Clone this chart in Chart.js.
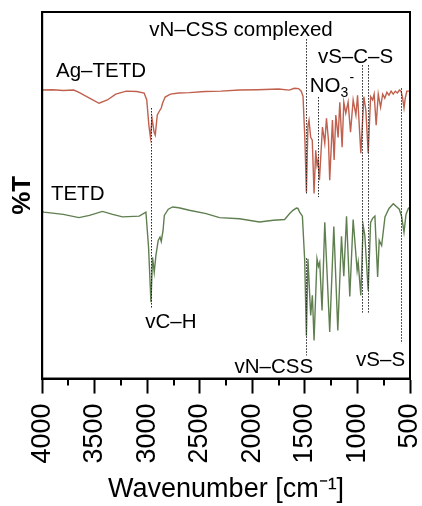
<!DOCTYPE html>
<html>
<head>
<meta charset="utf-8">
<script src="https://cdn.jsdelivr.net/npm/chart.js@4.4.1/dist/chart.umd.min.js"></script>
<style>
  html, body { margin: 0; padding: 0; background: #fff; }
  #wrap { width: 422px; height: 506px; position: relative; }
</style>
</head>
<body>
<div id="wrap"><canvas id="ir-chart"></canvas></div>
<script>
// FTIR spectra (%T, arbitrary offset).
var agWavenumber = [4000, 3900, 3800, 3700, 3650, 3550, 3459, 3380, 3300, 3200, 3100, 3030, 3005, 2985, 2970, 2955, 2935, 2924, 2905, 2880, 2867, 2855, 2830, 2780, 2700, 2600, 2450, 2300, 2122, 1950, 1750, 1650, 1600, 1560, 1535, 1518, 1500, 1486, 1471, 1461, 1445, 1430, 1413, 1397, 1385, 1375, 1362, 1333, 1311, 1295, 1276, 1264, 1238, 1222, 1206, 1184, 1168, 1146, 1130, 1111, 1089, 1066, 1041, 1015, 999, 968, 939, 920, 898, 875, 856, 841, 822, 802, 780, 760, 740, 720, 700, 680, 660, 640, 620, 600, 585, 570, 557, 545, 530, 500];
var agTransmittance = [78.7, 78.8, 78.6, 78.7, 78.1, 76.5, 75.1, 76.0, 77.6, 78.4, 78.3, 77.9, 76.0, 69.1, 65.8, 71.0, 67.2, 66.4, 71.9, 73.2, 73.8, 75.1, 76.8, 77.6, 77.9, 78.0, 78.3, 78.4, 78.7, 78.8, 79.0, 78.7, 79.2, 79.1, 78.4, 77.0, 65.0, 50.8, 69.1, 70.5, 65.8, 65.0, 50.5, 62.3, 58.2, 59.6, 54.1, 68.6, 64.2, 71.0, 65.0, 54.1, 70.5, 59.6, 71.9, 65.8, 75.4, 63.1, 75.4, 72.4, 75.4, 67.2, 76.0, 71.9, 77.3, 61.5, 76.9, 73.2, 61.5, 76.9, 76.0, 77.6, 69.1, 77.6, 74.0, 77.6, 76.5, 78.1, 77.3, 78.4, 77.6, 78.4, 77.9, 78.7, 78.4, 76.5, 73.8, 76.5, 78.4, 78.4];

var tetdWavenumber = [4000, 3984, 3800, 3650, 3550, 3427, 3330, 3236, 3077, 3013, 2988, 2965, 2950, 2934, 2918, 2896, 2879, 2867, 2850, 2838, 2800, 2759, 2700, 2600, 2440, 2313, 2122, 1932, 1800, 1693, 1645, 1614, 1581, 1566, 1550, 1524, 1502, 1486, 1471, 1445, 1429, 1413, 1385, 1371, 1359, 1337, 1311, 1264, 1225, 1187, 1152, 1130, 1104, 1073, 1041, 1003, 993, 968, 946, 930, 898, 875, 856, 834, 808, 793, 770, 738, 700, 659, 602, 579, 557, 538, 516, 500];
var tetdTransmittance = [45.6, 45.4, 44.8, 43.9, 44.5, 45.6, 44.8, 44.1, 44.3, 45.4, 35.9, 20.8, 33.1, 29.0, 33.6, 37.7, 38.6, 37.4, 40.4, 44.5, 46.2, 46.8, 46.6, 45.9, 45.0, 43.9, 43.6, 42.7, 43.2, 43.4, 45.0, 45.9, 46.5, 46.4, 45.4, 44.3, 32.2, 11.7, 32.7, 17.2, 22.7, 10.4, 32.7, 30.6, 31.7, 18.6, 42.6, 12.7, 41.5, 13.1, 38.8, 27.9, 44.3, 22.4, 43.4, 29.5, 31.7, 22.7, 41.8, 39.1, 24.0, 42.6, 43.7, 44.3, 27.7, 37.7, 36.3, 44.1, 46.4, 47.7, 46.2, 44.1, 39.9, 44.8, 46.4, 46.8];

var majorTicks = [4000, 3500, 3000, 2500, 2000, 1500, 1000, 500];
var minorTicks = [3750, 3250, 2750, 2250, 1750, 1250, 750];

// Band assignments: dotted marker lines (wavenumber, top and bottom in %T).
var bandWavenumber = [1486, 1376, 961, 898, 586, 2965, 1486];
var bandTop = [92.6, 76.8, 85.5, 85.5, 79.2, 73.8, 32.8];
var bandBottom = [50.5, 49.5, 18.0, 18.0, 9.6, 19.1, 6.3];

// Text labels, anchored at their left edge and vertical middle.
var labelText = ['vN\u2013CSS complexed', 'vS\u2013C\u2013S', 'NO', 'Ag\u2013TETD', 'TETD', 'vC\u2013H', 'vN\u2013CSS', 'vS\u2013S'];
var labelSub = ['', '', '3', '', '', '', '', ''];
var labelSup = ['', '', '-', '', '', '', '', ''];
var labelWavenumber = [2981, 1376, 1454, 3869, 3917, 3020, 2170, 1013];
var labelT = [95.1, 87.7, 79.8, 83.9, 50.3, 15.3, 3.0, 4.9];

var FONT = '"Liberation Sans", Arial, Helvetica, sans-serif';

function toPoints(xs, ys) {
  return xs.map(function (x, i) { return { x: x, y: ys[i] }; });
}

var spectrumDecor = {
  id: 'spectrumDecor',
  afterDatasetsDraw: function (chart) {
    var ctx = chart.ctx;
    var xs = chart.scales.x;
    var ys = chart.scales.y;
    var area = chart.chartArea;

    ctx.save();

    // dotted band markers
    ctx.strokeStyle = '#222';
    ctx.lineWidth = 1;
    ctx.setLineDash([1.5, 1.5]);
    bandWavenumber.forEach(function (wn, i) {
      var px = Math.round(xs.getPixelForValue(wn)) + 0.5;
      ctx.beginPath();
      ctx.moveTo(px, ys.getPixelForValue(bandTop[i]));
      ctx.lineTo(px, ys.getPixelForValue(bandBottom[i]));
      ctx.stroke();
    });
    ctx.setLineDash([]);

    // labels
    ctx.fillStyle = '#000';
    ctx.textBaseline = 'middle';
    ctx.textAlign = 'left';
    labelText.forEach(function (txt, i) {
      var px = xs.getPixelForValue(labelWavenumber[i]);
      var py = ys.getPixelForValue(labelT[i]);
      ctx.font = '20.5px ' + FONT;
      ctx.fillText(txt, px, py);
      var w = ctx.measureText(txt).width;
      if (labelSub[i] || labelSup[i]) {
        ctx.font = '14px ' + FONT;
        if (labelSub[i]) {
          ctx.fillText(labelSub[i], px + w, py + 7);
        }
        if (labelSup[i]) {
          ctx.fillText(labelSup[i], px + w + 9, py - 8);
        }
      }
    });

    // minor ticks
    ctx.strokeStyle = '#000';
    ctx.lineWidth = 2;
    minorTicks.forEach(function (wn) {
      var px = Math.round(xs.getPixelForValue(wn));
      ctx.beginPath();
      ctx.moveTo(px, area.bottom);
      ctx.lineTo(px, area.bottom + 7);
      ctx.stroke();
    });

    // frame
    ctx.lineWidth = 2;
    ctx.strokeRect(area.left, area.top, area.right - area.left, area.bottom - area.top);

    ctx.restore();
  }
};

new Chart(document.getElementById('ir-chart'), {
  type: 'line',
  data: {
    datasets: [
      {
        label: 'Ag\u2013TETD',
        data: toPoints(agWavenumber, agTransmittance),
        borderColor: '#c0604e',
        borderWidth: 1.4,
        pointRadius: 0,
        tension: 0,
        fill: false
      },
      {
        label: 'TETD',
        data: toPoints(tetdWavenumber, tetdTransmittance),
        borderColor: '#607f50',
        borderWidth: 1.4,
        pointRadius: 0,
        tension: 0,
        fill: false
      }
    ]
  },
  options: {
    responsive: true,
    maintainAspectRatio: false,
    animation: false,
    layout: {
      padding: { top: 12, right: 12, left: 3, bottom: 0 }
    },
    scales: {
      x: {
        type: 'linear',
        reverse: true,
        min: 500,
        max: 4000,
        afterBuildTicks: function (axis) {
          axis.ticks = majorTicks.map(function (v) { return { value: v }; });
        },
        afterFit: function (axis) {
          axis.paddingLeft = 0;
          axis.paddingRight = 0;
        },
        ticks: {
          autoSkip: false,
          maxRotation: 90,
          minRotation: 90,
          padding: 10,
          color: '#000',
          font: { family: FONT, size: 27 },
          callback: function (v) { return String(v); }
        },
        grid: {
          drawOnChartArea: false,
          tickLength: 15,
          tickWidth: 2,
          tickColor: '#000'
        },
        border: { display: true, color: '#000', width: 2 },
        title: {
          display: true,
          text: 'Wavenumber [cm\u207B\u00B9]',
          color: '#000',
          font: { family: FONT, size: 27 },
          padding: { top: 0, bottom: 0 }
        }
      },
      y: {
        min: 0,
        max: 100,
        ticks: { display: false },
        grid: { drawOnChartArea: false, drawTicks: false },
        border: { display: true, color: '#000', width: 2 },
        title: {
          display: true,
          text: '%T',
          color: '#000',
          font: { family: FONT, size: 26, weight: 'bold' },
          padding: { top: 4, bottom: 4 }
        }
      }
    },
    plugins: {
      legend: { display: false },
      tooltip: { enabled: false }
    }
  },
  plugins: [spectrumDecor]
});
</script>
</body>
</html>
